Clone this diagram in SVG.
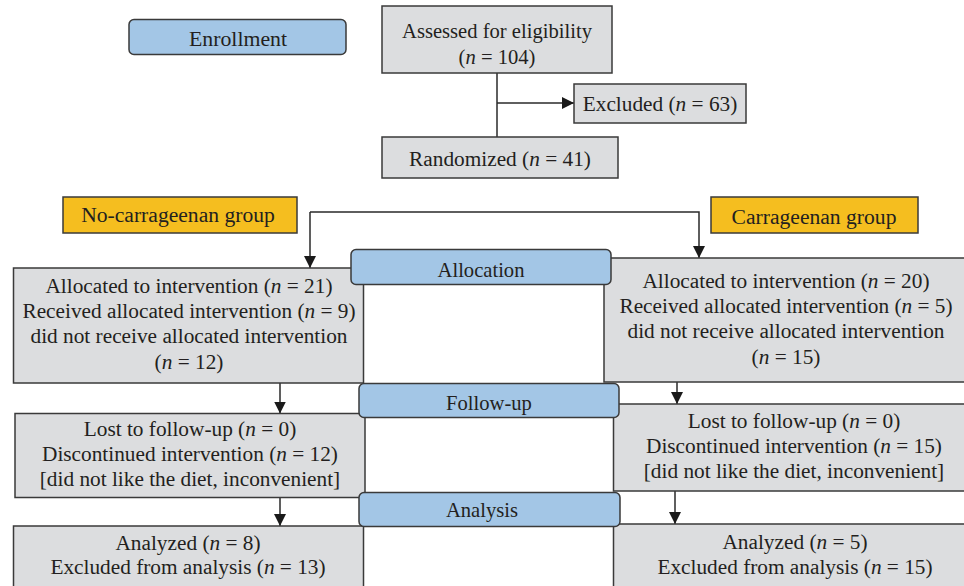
<svg xmlns="http://www.w3.org/2000/svg" width="964" height="586" viewBox="0 0 964 586">
<style>
text{font-family:'Liberation Serif',Tinos,'Times New Roman','DejaVu Serif',serif;font-size:21.3px;fill:#231f20;text-anchor:middle}
.it{font-style:italic}
.sm{font-size:20.6px}
.box{fill:#dcdddf;stroke:#3a3a3a;stroke-width:1.5}
.lab{fill:#a3c6e6;stroke:#3a3a3a;stroke-width:1.5}
.grp{fill:#f5be1f;stroke:#3a3a3a;stroke-width:1.5}
.ln{fill:none;stroke:#2a2a2a;stroke-width:1.5}
</style>
<defs>
<marker id="ah" markerUnits="userSpaceOnUse" markerWidth="12" markerHeight="12" viewBox="0 0 12 12" refX="12" refY="6" orient="auto">
<path d="M0,0 L12,6 L0,12 Z" fill="#1a1a1a"/>
</marker>
</defs>
<g id="connectors">
<path class="ln" d="M497,73 V137"/>
<path class="ln" d="M497,103 H574" marker-end="url(#ah)"/>
<path class="ln" d="M310,212 H699 V258" marker-end="url(#ah)"/>
<path class="ln" d="M310,212 V268" marker-end="url(#ah)"/>
<path class="ln" d="M280,383 V413.5" marker-end="url(#ah)"/>
<path class="ln" d="M677,382 V404" marker-end="url(#ah)"/>
<path class="ln" d="M280,497 V526" marker-end="url(#ah)"/>
<path class="ln" d="M675,491 V524" marker-end="url(#ah)"/>
</g>
<g id="enrollment">
<rect class="lab" x="129" y="19.5" width="217" height="35" rx="5"/>
<text x="238" y="46" style="font-size:21.8px">Enrollment</text>
</g>
<g id="assessed">
<rect class="box" x="382" y="6" width="230" height="67"/>
<text x="497" y="38" class="sm">Assessed for eligibility</text>
<text x="497" y="64" class="sm">(<tspan class="it">n</tspan> = 104)</text>
</g>
<g id="excluded">
<rect class="box" x="574" y="84" width="172" height="39"/>
<text x="660" y="111">Excluded (<tspan class="it">n</tspan> = 63)</text>
</g>
<g id="randomized">
<rect class="box" x="382" y="137" width="236" height="41"/>
<text x="500" y="166">Randomized (<tspan class="it">n</tspan> = 41)</text>
</g>
<g id="nocarr-group">
<rect class="grp" x="63" y="197" width="234" height="36"/>
<text x="178" y="222" style="font-size:21.6px">No-carrageenan group</text>
</g>
<g id="carr-group">
<rect class="grp" x="711" y="197" width="207" height="36"/>
<text x="814" y="224" style="font-size:21.6px">Carrageenan group</text>
</g>
<g id="left-allocation">
<rect class="box" x="13.5" y="268" width="350" height="115"/>
<text x="189" y="292.5">Allocated to intervention (<tspan class="it">n</tspan> = 21)</text>
<text x="189" y="317.5">Received allocated intervention (<tspan class="it">n</tspan> = 9)</text>
<text x="189" y="342.5">did not receive allocated intervention</text>
<text x="189" y="368.5">(<tspan class="it">n</tspan> = 12)</text>
</g>
<g id="right-allocation">
<rect class="box" x="604" y="258" width="366" height="124"/>
<text x="786" y="287.5">Allocated to intervention (<tspan class="it">n</tspan> = 20)</text>
<text x="786" y="312.5">Received allocated intervention (<tspan class="it">n</tspan> = 5)</text>
<text x="786" y="337.5">did not receive allocated intervention</text>
<text x="786" y="363.5">(<tspan class="it">n</tspan> = 15)</text>
</g>
<g id="left-followup">
<rect class="box" x="15" y="413.5" width="350" height="84"/>
<text x="190" y="436">Lost to follow-up (<tspan class="it">n</tspan> = 0)</text>
<text x="190" y="461">Discontinued intervention (<tspan class="it">n</tspan> = 12)</text>
<text x="190" y="486">[did not like the diet, inconvenient]</text>
</g>
<g id="right-followup">
<rect class="box" x="613.5" y="404" width="360" height="87"/>
<text x="794" y="428">Lost to follow-up (<tspan class="it">n</tspan> = 0)</text>
<text x="794" y="453">Discontinued intervention (<tspan class="it">n</tspan> = 15)</text>
<text x="794" y="478">[did not like the diet, inconvenient]</text>
</g>
<g id="left-analysis">
<rect class="box" x="13.5" y="526" width="350" height="80"/>
<text x="188" y="549.5">Analyzed (<tspan class="it">n</tspan> = 8)</text>
<text x="188" y="574">Excluded from analysis (<tspan class="it">n</tspan> = 13)</text>
</g>
<g id="right-analysis">
<rect class="box" x="613.5" y="524" width="360" height="80"/>
<text x="795" y="548.5">Analyzed (<tspan class="it">n</tspan> = 5)</text>
<text x="795" y="573.5">Excluded from analysis (<tspan class="it">n</tspan> = 15)</text>
</g>
<g id="allocation-label">
<rect class="lab" x="351" y="249.5" width="260" height="35" rx="5"/>
<text x="481" y="277" class="sm">Allocation</text>
</g>
<g id="followup-label">
<rect class="lab" x="359" y="383.5" width="260" height="34" rx="5"/>
<text x="489" y="410" class="sm">Follow-up</text>
</g>
<g id="analysis-label">
<rect class="lab" x="359" y="492.5" width="261" height="34" rx="5"/>
<text x="482" y="517" class="sm">Analysis</text>
</g>
</svg>
